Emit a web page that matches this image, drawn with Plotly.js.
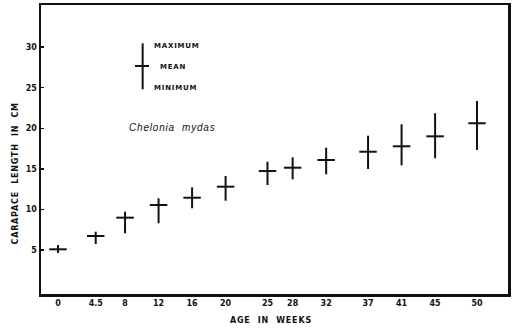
<!DOCTYPE html>
<html>
<head>
<meta charset="utf-8">
<script src="https://cdn.plot.ly/plotly-3.0.1.min.js"></script>
<style>
  html, body { margin: 0; padding: 0; background: #fff; }
  #chart { width: 512px; height: 328px; }
  svg text.annotation-text { letter-spacing: 0.8px; }
</style>
</head>
<body>
<div id="chart"></div>
<script>
// Age in weeks
var ageWeeks = [0, 4.5, 8, 12, 16, 20, 25, 28, 32, 37, 41, 45, 50];
// Carapace length (cm)
var meanLength = [5.08, 6.72, 8.98, 10.54, 11.44, 12.80, 14.73, 15.14, 16.09, 17.11, 17.78, 19.01, 20.62];
var maxLength  = [5.61, 7.25, 9.72, 11.37, 12.72, 14.12, 15.88, 16.42, 17.61, 19.09, 20.49, 21.85, 23.37];
var minLength  = [4.62, 5.73, 7.05, 8.29, 10.14, 11.07, 13.01, 13.71, 14.33, 14.98, 15.44, 16.30, 17.32];
var xTickLabels = ["0", "4.5", "8", "12", "16", "20", "25", "28", "32", "37", "41", "45", "50"];
var yTickVals = [5, 10, 15, 20, 25, 30];

var errPlus = meanLength.map(function (m, i) { return maxLength[i] - m; });
var errMinus = meanLength.map(function (m, i) { return m - minLength[i]; });

var trace = {
  type: 'scatter',
  mode: 'markers',
  x: ageWeeks,
  y: meanLength,
  marker: { symbol: 'line-ew', size: 12.5, color: '#111', line: { color: '#111', width: 2 } },
  error_y: {
    type: 'data', symmetric: false,
    array: errPlus, arrayminus: errMinus,
    width: 0, thickness: 2, color: '#111'
  },
  hoverinfo: 'skip',
  showlegend: false
};

var tickFont = { family: 'DejaVu Sans', size: 8, color: '#111', weight: 'bold' };
var labelFont = { family: 'DejaVu Sans', size: 7, color: '#111', weight: 'bold' };

var layout = {
  width: 512, height: 328,
  margin: { l: 41, r: 4, t: 5, b: 34 },
  paper_bgcolor: '#fff', plot_bgcolor: '#fff',
  font: { family: 'DejaVu Sans', color: '#111' },
  xaxis: {
    range: [-2.03, 53.7],
    tickvals: ageWeeks, ticktext: xTickLabels,
    ticks: '', showgrid: false, zeroline: false,
    showline: true, mirror: true, linecolor: '#111', linewidth: 2.5,
    tickfont: tickFont
  },
  yaxis: {
    range: [-0.43, 35.2],
    tickvals: yTickVals, ticktext: yTickVals.map(String),
    ticks: 'inside', ticklen: 3, tickwidth: 1.5, tickcolor: '#111',
    showgrid: false, zeroline: false,
    showline: true, mirror: true, linecolor: '#111', linewidth: 2.5,
    tickfont: tickFont
  },
  shapes: [
    { type: 'line', xref: 'x', yref: 'y', x0: 10.1, x1: 10.1, y0: 24.81, y1: 30.48, line: { color: '#111', width: 2 } },
    { type: 'line', xref: 'x', yref: 'y', x0: 9.19, x1: 10.86, y0: 27.68, y1: 27.68, line: { color: '#111', width: 2 } }
  ],
  annotations: [
    { xref: 'x', yref: 'y', x: 11.18, y: 30.18, xanchor: 'left', yanchor: 'middle', text: 'MAXIMUM', showarrow: false, font: labelFont },
    { xref: 'x', yref: 'y', x: 11.93, y: 27.6, xanchor: 'left', yanchor: 'middle', text: 'MEAN', showarrow: false, font: labelFont },
    { xref: 'x', yref: 'y', x: 11.18, y: 25.0, xanchor: 'left', yanchor: 'middle', text: 'MINIMUM', showarrow: false, font: labelFont },
    { xref: 'x', yref: 'y', x: 13.57, y: 20.12, xanchor: 'center', yanchor: 'middle', text: '<i>Chelonia  mydas</i>', showarrow: false,
      font: { family: 'Liberation Sans', size: 10, color: '#111' } },
    { xref: 'paper', yref: 'paper', x: 0.492, y: -0.092, xanchor: 'center', yanchor: 'middle', text: 'AGE  IN  WEEKS', showarrow: false,
      font: { family: 'DejaVu Sans', size: 8, color: '#111', weight: 'bold' } },
    { xref: 'paper', yref: 'paper', x: -0.055, y: 0.418, xanchor: 'center', yanchor: 'middle', textangle: -90, text: 'CARAPACE  LENGTH  IN  CM', showarrow: false,
      font: { family: 'DejaVu Sans', size: 8, color: '#111', weight: 'bold' } }
  ]
};

Plotly.newPlot('chart', [trace], layout, { displayModeBar: false, staticPlot: true });
</script>
</body>
</html>
